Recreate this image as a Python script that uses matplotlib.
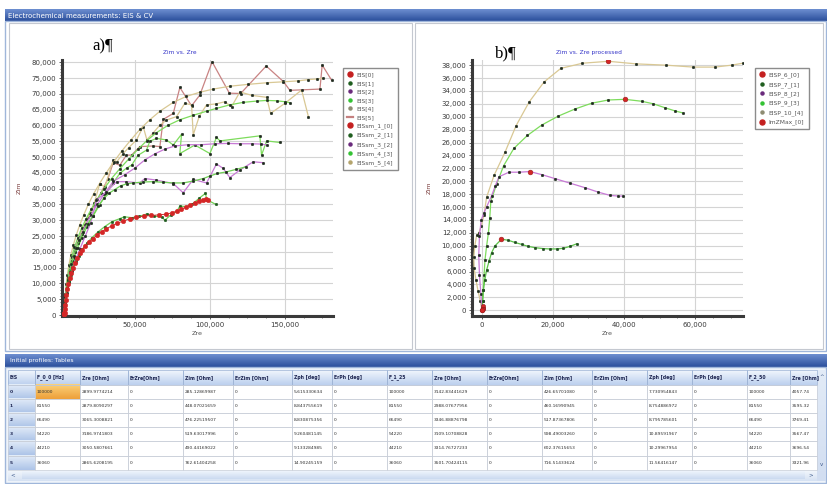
import numpy as np
import matplotlib
matplotlib.use("Agg")
import matplotlib.pyplot as plt
import matplotlib.ticker as mticker
from matplotlib.colors import LinearSegmentedColormap
from matplotlib.lines import Line2D
from matplotlib.patches import Rectangle

W, H = 827, 484

# ---------------- panel a) : Zim vs. Zre (raw + smoothed) ----------------
eis0_zre = [2900, 2880, 3070, 3190, 3050, 2870, 3200, 3500, 3900, 4400, 5000, 5800, 6700, 7800, 9000,
            10200, 11700, 13300, 15000, 17000, 19500, 22000, 25000, 28000, 31000, 34500, 38000, 42000,
            46500, 51000, 56000, 61000, 66000, 70500, 74500, 78000, 81000, 84000, 87000, 90000, 93000,
            95500, 97500, 99000]
eis0_zim = [285, 448, 476, 520, 490, 763, 1800, 3200, 4800, 6500, 8100, 9800, 11600, 13300, 15000,
            16600, 18100, 19500, 20700, 21900, 23100, 24200, 25300, 26400, 27300, 28200, 29000, 29700,
            30400, 30900, 31300, 31500, 31700, 31900, 32300, 32900, 33500, 34100, 34700, 35400, 36100,
            36500, 36700, 36400]

eis1_zre = [3000, 3200, 3600, 4200, 5000, 6000, 7200, 8700, 10500, 12500, 15000, 18000, 21500, 25500,
            30000, 35000, 40000, 43000, 48000, 53000, 58000, 63000, 68000, 70000, 74000, 78000, 80000,
            84000, 88000, 93000, 97000, 98000, 104000]
eis1_zim = [400, 2000, 4000, 6200, 8500, 10700, 12800, 14800, 16900, 18800, 20800, 22700, 24500, 26300,
            28000, 29600, 30500, 31100, 30800, 31200, 32000, 31300, 31000, 30000, 31700, 32800, 34500,
            34300, 35000, 37000, 38500, 36500, 35000]

eis2_zre = [3000, 3500, 4500, 6000, 8000, 10500, 13500, 17000, 20500, 24400, 31100, 37800, 44400, 53300,
            56700, 64400, 75600, 82200, 88900, 97800, 104400, 108900, 113300, 120000, 128900, 135600]
eis2_zim = [300, 3500, 7000, 10500, 14000, 17500, 21000, 25000, 29000, 36300, 39000, 42200, 42200, 41800,
            43200, 42700, 41600, 38700, 42900, 41800, 47800, 46400, 43500, 45900, 48500, 48200]

eis3_zre = [3000, 3400, 4000, 5000, 6200, 7800, 9700, 12000, 14800, 18000, 22000, 26500, 31000, 35500,
            40000, 44500, 48000, 52000, 57800, 60000, 64400, 71100, 75600, 81100, 80000, 90000, 100000,
            104400, 106700, 133300, 134400, 137800, 146700]
eis3_zim = [350, 3300, 6300, 9300, 12300, 15300, 18300, 21300, 24500, 27800, 31200, 34800, 38500, 41800,
            44800, 46500, 47500, 50500, 52200, 55000, 55900, 55400, 53800, 57200, 51100, 53800, 51100,
            56200, 55100, 56700, 50600, 55100, 54600]

eis4_zre = [3000, 3500, 4300, 5400, 6800, 8600, 10800, 13400, 16500, 20000, 23000, 26700, 30000, 35600,
            38000, 42200, 46000, 51100, 55600, 58000, 62000, 66700, 71100, 77800, 83300, 87800, 88900,
            93000, 97800, 104000, 110000, 114400, 120000, 128000, 137800, 140400, 150000, 161100, 165600]
eis4_zim = [350, 3800, 7300, 10800, 14300, 17800, 21300, 24800, 28500, 32300, 35500, 41600, 40500, 49000,
            48500, 51100, 53000, 55400, 59600, 55500, 57500, 60100, 61700, 62800, 67000, 66500, 57000,
            63000, 66500, 66800, 67500, 65900, 70600, 69500, 68900, 63800, 67000, 71200, 62800]

eis5_zre = [3000, 3400, 4100, 5100, 6400, 8000, 10000, 12500, 15500, 19000, 23000, 27500, 32000, 35600,
            40000, 44400, 47800, 53300, 62200, 66700, 68900, 75600, 80000, 87800, 93300, 101500, 113000,
            120500, 137500, 148900, 153300, 173300, 174800, 181100]
eis5_zim = [350, 3600, 7000, 10400, 13800, 17200, 20600, 24000, 27500, 31000, 34800, 38700, 43000, 48200,
            47400, 50600, 50600, 53300, 53500, 53300, 61900, 63800, 72000, 66200, 69600, 80100, 70200,
            70100, 78800, 73900, 71100, 71500, 79100, 74300]

sm2_zre = [3000, 3300, 3800, 4500, 5400, 6500, 7800, 9300, 11000, 13000, 15500, 18500, 22000, 25500,
           29600, 33000, 36700, 40500, 44500, 48900, 55600, 62200, 68900, 75600, 82200, 88900, 95600,
           100000, 105000, 111000, 117500, 124000]
sm2_zim = [400, 3000, 5700, 8400, 11000, 13600, 16200, 18800, 21300, 23800, 26300, 28800, 31300, 34500,
           37000, 38600, 39700, 40900, 41500, 41800, 42100, 42200, 42000, 41800, 41800, 42400, 43200,
           44000, 44800, 45300, 46100, 46900]

sm3_zre = [3000, 3300, 3800, 4600, 5600, 6800, 8300, 10000, 12000, 14500, 17500, 21000, 25000, 29500,
           35600, 43300, 50000, 56700, 63300, 70000, 76700, 85500, 94400, 103300, 112200, 120000, 128000,
           134000, 138000]
sm3_zim = [400, 3200, 6000, 8800, 11600, 14400, 17200, 20000, 22800, 25700, 28700, 31800, 35000, 38200,
           42300, 44400, 46500, 49100, 51000, 52500, 53500, 53900, 53900, 54200, 54300, 54200, 54200,
           54100, 53800]

sm4_zre = [3000, 3300, 3800, 4500, 5400, 6600, 8000, 9800, 12000, 14500, 17500, 21000, 25000, 29500,
           34500, 40000, 46000, 52000, 58000, 64400, 72000, 80000, 88900, 97800, 104400, 113300, 122200,
           131100, 137800, 144400, 150000, 153300]
sm4_zim = [400, 3400, 6400, 9400, 12400, 15400, 18400, 21400, 24400, 27400, 30400, 33500, 36700, 40000,
           43200, 46300, 49400, 52400, 55200, 57700, 60000, 61800, 63200, 64500, 65400, 66500, 67300,
           67700, 67900, 67800, 67500, 67200]

sm5_zre = [3000, 3300, 3700, 4300, 5100, 6100, 7400, 9000, 11000, 13300, 16000, 19000, 22500, 26500,
           31000, 36000, 41500, 47500, 53500, 60000, 67000, 75600, 84400, 93300, 102200, 113300, 125600,
           137800, 148900, 158900, 165600, 171100, 175600]
sm5_zim = [400, 3500, 6600, 9700, 12800, 15900, 19000, 22100, 25300, 28500, 31700, 35000, 38300, 41600,
           45000, 48500, 52000, 55500, 58800, 61800, 64600, 67300, 69200, 70500, 71500, 72400, 73000,
           73500, 73800, 74100, 74500, 74700, 74900]

legend_a = ["EIS[0]", "EIS[1]", "EIS[2]", "EIS[3]", "EIS[4]", "EIS[5]",
            "EISsm_1_[0]", "EISsm_2_[1]", "EISsm_3_[2]", "EISsm_4_[3]", "EISsm_5_[4]"]

# ---------------- panel b) : Zim vs. Zre processed ----------------
p6_zre = [100, 250, 400, 300]
p6_zim = [100, 350, 600, 200]

p7_zre = [0, 200, 400, 800, 1300, 2000, 2700, 3700, 5500, 7400, 9300, 11200, 13000, 14900, 17300,
          19200, 21000, 22900, 24800, 26700]
p7_zim = [0, 1500, 3100, 4700, 6200, 7600, 8900, 10000, 11000, 10850, 10500, 10200, 9900, 9700, 9550,
          9500, 9500, 9600, 9900, 10300]

p8_zre = [0, -300, -700, -900, -700, -200, 500, 1300, 2700, 3700, 4800, 7600, 10500, 13500, 17000,
          20600, 24800, 29000, 32800, 36100, 38400, 39800]
p8_zim = [0, 2500, 5500, 8500, 11500, 14000, 15000, 16000, 17700, 19200, 20700, 21400, 21400, 21500,
          21000, 20400, 19700, 19000, 18300, 17800, 17700, 17700]

p9_zre = [0, 200, 400, 600, 850, 1300, 1800, 2200, 2500, 4100, 6100, 9000, 12800, 16800, 21500, 26200,
          30900, 35600, 40300, 45000, 48300, 51500, 54400, 56500]
p9_zim = [0, 1500, 3100, 5400, 7750, 9900, 11900, 14300, 16900, 19500, 22400, 25100, 27100, 28700,
          30100, 31200, 32100, 32600, 32700, 32400, 32000, 31400, 30900, 30600]

p10_zre = [0, -500, -1100, -1700, -2200, -2300, -2000, -1500, -900, -200, 600, 1300, 3400, 6500, 9600,
           13300, 17500, 22200, 28300, 35600, 43400, 51800, 59500, 65600, 70300, 73400]
p10_zim = [0, 1500, 3000, 4700, 6500, 8200, 10000, 11600, 12000, 13000, 14800, 17500, 20900, 24500,
           28600, 32300, 35400, 37500, 38300, 38600, 38200, 38000, 37700, 37700, 38000, 38300]

zmax_zre = [0, 5500, 13500, 40300, 35600]
zmax_zim = [0, 11000, 21500, 32700, 38600]

legend_b = ["EISP_6_[0]", "EISP_7_[1]", "EISP_8_[2]", "EISP_9_[3]", "EISP_10_[4]", "ImZMax_[0]"]

# ---------------- table "Initial profiles: Tables" ----------------
table_cols = ["EIS", "F_0_0 [Hz]", "Zre [Ohm]", "ErZre[Ohm]", "Zim [Ohm]", "ErZim [Ohm]", "Zph [deg]",
              "ErPh [deg]", "F_1_25", "Zre [Ohm]", "ErZre[Ohm]", "Zim [Ohm]", "ErZim [Ohm]", "Zph [deg]",
              "ErPh [deg]", "F_2_50", "Zre [Ohm]"]
freq = ["100000", "81550", "66490", "54220", "44210", "36060"]
zre_0 = ["2899.9774214", "2879.8090297", "3065.3008821", "3186.9741803", "3050.5807661", "2865.6208195"]
zim_0 = ["285.12869987", "448.07021659", "476.22519507", "519.63017996", "490.44169022", "762.61404258"]
zph_0 = ["5.615330634", "8.843755619", "8.830875356", "9.260481145", "9.133284985", "14.90245159"]
zre_1 = ["3142.83441629", "2988.07677956", "3346.88876798", "3109.10708828", "3314.76727233", "3501.70424115"]
zim_1 = ["426.65701080", "460.16990945", "517.87367806", "598.49003260", "602.37615653", "716.51433624"]
zph_1 = ["7.730954843", "8.754886972", "8.795785601", "10.89591967", "10.29967954", "11.56416147"]
zre_2 = ["4057.74", "3595.32", "3769.41", "3567.47", "3696.54", "3321.96"]

col_edges = [8, 35, 80, 128, 183, 233, 292, 332, 387, 432, 487, 542, 592, 647, 692, 747, 790, 817]

DARK = "#1e2a1e"
GREEN_L = "#7ddc5c"
PURPLE_L = "#c87ad6"
TAN_L = "#d9c894"
ROSE_L = "#c98383"


def thousands(v, pos):
    return f"{v:,.0f}"


def px_axes(fig, x0, y0, x1, y1, **kw):
    return fig.add_axes([x0 / W, 1 - y1 / H, (x1 - x0) / W, (y1 - y0) / H], **kw)


def gradient(ax, x0, y0, x1, y1, top, bottom, z=1):
    cmap = LinearSegmentedColormap.from_list("g", [top, bottom])
    ax.imshow(np.linspace(0, 1, 32)[:, None], cmap=cmap, aspect="auto", origin="upper",
              extent=(x0, x1, y1, y0), zorder=z, interpolation="bilinear")


def style_chart(ax, xlim, ylim, xmaj, xminor, ymaj, yminor):
    ax.set_xlim(*xlim)
    ax.set_ylim(*ylim)
    ax.xaxis.set_major_locator(mticker.FixedLocator(xmaj))
    ax.xaxis.set_minor_locator(mticker.MultipleLocator(xminor))
    ax.yaxis.set_major_locator(mticker.MultipleLocator(ymaj))
    ax.yaxis.set_minor_locator(mticker.MultipleLocator(yminor))
    ax.xaxis.set_major_formatter(mticker.FuncFormatter(thousands))
    ax.yaxis.set_major_formatter(mticker.FuncFormatter(thousands))
    ax.grid(True, which="major", color="#d4d4d4", lw=0.8)
    ax.set_axisbelow(True)
    for s in ("top", "right"):
        ax.spines[s].set_visible(False)
    for s in ("left", "bottom"):
        ax.spines[s].set_linewidth(2.2)
        ax.spines[s].set_color("#3a3a3a")
    ax.tick_params(which="major", labelsize=5, labelcolor="#3a3a3a", length=2.5, width=0.6,
                   color="#404040", pad=1.5)
    ax.tick_params(which="minor", length=1.4, width=0.5, color="#404040")
    ax.set_xlabel("Zre", fontsize=4.6, color="#505050")
    ax.set_ylabel("Zim", fontsize=4.6, color="#7a3c3c")
    ax.xaxis.set_label_coords(0.5, -0.06)
    ax.yaxis.set_label_coords(-0.148, 0.5)


def series(ax, x, y, line, mark=DARK, ms=1.9, lw=0.9, z=3):
    ax.plot(x, y, color=line, lw=lw, marker="o", ms=ms, mfc=mark, mec=mark, mew=0.3, zorder=z)


def legend_handles(specs):
    hs = []
    for color, big, style in specs:
        if style == "line":
            hs.append(Line2D([], [], color=color, lw=1.6))
        else:
            hs.append(Line2D([], [], ls="none", marker="o", ms=3.6 if big else 2.2,
                             mfc=color, mec=color))
    return hs


fig = plt.figure(figsize=(W / 100, H / 100), dpi=100)
fig.patch.set_facecolor("white")

# ---------- background frame, bars and table ----------
bg = fig.add_axes([0, 0, 1, 1])
bg.set_xlim(0, W)
bg.set_ylim(H, 0)
bg.axis("off")

gradient(bg, 5, 9, W, 21, "#6d8ed0", "#2b4f9c")
bg.text(8, 15.5, "Electrochemical measurements: EIS & CV", color="white", fontsize=5, va="center")
bg.add_patch(Rectangle((5, 21), W - 6, 330, fc="white", ec="#9fb6da", lw=1.0))
bg.add_patch(Rectangle((9, 23), 403, 326, fc="white", ec="#c4c8d0", lw=0.8))
bg.add_patch(Rectangle((415, 23), 408, 326, fc="white", ec="#c4c8d0", lw=0.8))

gradient(bg, 5, 354, W, 367, "#6d8ed0", "#2b4f9c")
bg.text(10, 360.5, "Initial profiles: Tables", color="white", fontsize=4.3, va="center")
bg.add_patch(Rectangle((5, 367), W - 6, 116, fc="#eef3fa", ec="#9fb6da", lw=1.0))

hdr_top, hdr_bot, row_h = 370, 385, 14.1
for i, name in enumerate(table_cols):
    x0, x1 = col_edges[i], col_edges[i + 1]
    gradient(bg, x0, hdr_top, x1, hdr_bot, "#f1f6fd", "#bcd0ee", z=2)
    bg.add_patch(Rectangle((x0, hdr_top), x1 - x0, hdr_bot - hdr_top, fc="none", ec="#9cb2d4",
                           lw=0.5, zorder=3))
    clip = Rectangle((x0, hdr_top), x1 - x0, hdr_bot - hdr_top, transform=bg.transData, fc="none")
    t = bg.text(x0 + 2, (hdr_top + hdr_bot) / 2, name, fontsize=3.3, fontweight="bold",
                color="#1c2450", va="center", zorder=4)
    t.set_clip_path(clip)

for r in range(6):
    y0 = hdr_bot + r * row_h
    cells = [str(r), freq[r], zre_0[r], "0", zim_0[r], "0", zph_0[r], "0",
             freq[r], zre_1[r], "0", zim_1[r], "0", zph_1[r], "0", freq[r], zre_2[r]]
    for c, val in enumerate(cells):
        x0, x1 = col_edges[c], col_edges[c + 1]
        if c == 0:
            gradient(bg, x0, y0, x1, y0 + row_h, "#e4edf9", "#adc4e8", z=2)
        elif r == 0 and c == 1:
            gradient(bg, x0, y0, x1, y0 + row_h, "#fbd17a", "#eea03a", z=2)
        else:
            bg.add_patch(Rectangle((x0, y0), x1 - x0, row_h, fc="white", ec="none", zorder=2))
        bg.add_patch(Rectangle((x0, y0), x1 - x0, row_h, fc="none", ec="#c9ced8", lw=0.5, zorder=3))
        clip = Rectangle((x0, y0), x1 - x0, row_h, transform=bg.transData, fc="none")
        t = bg.text(x0 + 2, y0 + row_h / 2, val, fontsize=3.2, va="center", zorder=4,
                    color="#1c2450" if c == 0 else "#303030",
                    fontweight="bold" if c == 0 else "normal")
        t.set_clip_path(clip)

# scrollbars
sb_y = hdr_bot + 6 * row_h
gradient(bg, 8, sb_y, 817, sb_y + 11, "#f3f7fc", "#d6e2f3", z=2)
gradient(bg, 22, sb_y + 1.5, 805, sb_y + 9.5, "#eef4fc", "#cbdaf0", z=3)
bg.text(13, sb_y + 5.5, "<", fontsize=4, color="#3d5a8c", va="center", ha="center", zorder=4)
bg.text(811, sb_y + 5.5, ">", fontsize=4, color="#3d5a8c", va="center", ha="center", zorder=4)
gradient(bg, 817, hdr_top, 826, sb_y + 11, "#e2ebf7", "#d2def1", z=2)
bg.text(821.5, hdr_top + 6, "^", fontsize=4, color="#3d5a8c", va="center", ha="center", zorder=4)
bg.text(821.5, sb_y - 5, "v", fontsize=4, color="#3d5a8c", va="center", ha="center", zorder=4)

# panel captions
bg.text(92, 50, "a)¶", fontsize=12, family="Liberation Serif", va="baseline", zorder=5)
bg.text(495, 57, "b)¶", fontsize=12, family="Liberation Serif", va="baseline", zorder=5)
bg.text(180, 52.5, "Zim vs. Zre", fontsize=4.2, color="#3434c8", ha="center", va="center", zorder=5)
bg.text(589, 52.5, "Zim vs. Zre processed", fontsize=4.2, color="#3434c8", ha="center", va="center",
        zorder=5)

# ---------- chart a) ----------
ax1 = px_axes(fig, 62, 60, 333, 316)
ax1.set_facecolor("none")
style_chart(ax1, (1500, 182000), (-300, 80700), [50000, 100000, 150000], 12500, 5000, 1000)
series(ax1, eis5_zre, eis5_zim, ROSE_L)
series(ax1, eis4_zre, eis4_zim, TAN_L)
series(ax1, sm5_zre, sm5_zim, TAN_L)
series(ax1, eis3_zre, eis3_zim, GREEN_L)
series(ax1, sm4_zre, sm4_zim, GREEN_L)
series(ax1, sm3_zre, sm3_zim, PURPLE_L)
series(ax1, eis2_zre, eis2_zim, PURPLE_L)
series(ax1, sm2_zre, sm2_zim, "#6fcf55")
series(ax1, eis1_zre, eis1_zim, "#6fcf55", mark="#1f5a1f")
series(ax1, eis0_zre, eis0_zim, "#c83030", mark="#d42626", ms=3.3, lw=0.7, z=4)

specs_a = [("#c42020", True, "dot"), ("#1f5e1f", False, "dot"), ("#6a2a7c", False, "dot"),
           ("#34c234", False, "dot"), ("#8e8c72", False, "dot"), ("#c58080", False, "line"),
           ("#c42020", True, "dot"), ("#1f5e1f", False, "dot"), ("#6a2a7c", False, "dot"),
           ("#34c234", False, "dot"), ("#b4a46c", False, "dot")]
leg1 = ax1.legend(legend_handles(specs_a), legend_a, loc="upper left",
                  bbox_to_anchor=(343 / W, 1 - 68 / H), bbox_transform=fig.transFigure,
                  borderaxespad=0, fontsize=4.3, labelspacing=0.56, handlelength=0.9,
                  handletextpad=0.7, borderpad=0.7, fancybox=False, framealpha=1)
leg1.get_frame().set_edgecolor("#8c8c8c")
leg1.get_frame().set_linewidth(1.0)
for t in leg1.get_texts():
    t.set_color("#555555")

# ---------- chart b) ----------
ax2 = px_axes(fig, 472, 60, 743, 316)
ax2.set_facecolor("none")
style_chart(ax2, (-2800, 73500), (-900, 38800), [0, 20000, 40000, 60000], 5000, 2000, 500)
series(ax2, p10_zre, p10_zim, TAN_L)
series(ax2, p9_zre, p9_zim, GREEN_L)
series(ax2, p8_zre, p8_zim, PURPLE_L)
series(ax2, p7_zre, p7_zim, "#5cc248", mark="#1f4a1f")
ax2.plot(p6_zre, p6_zim, ls="none", marker="o", ms=3.0, mfc="#d42626", mec="#8a1a1a", mew=0.4, zorder=5)
ax2.plot(zmax_zre, zmax_zim, ls="none", marker="o", ms=3.4, mfc="#d42626", mec="#9a1a1a", mew=0.4,
         zorder=5)

specs_b = [("#c42020", True, "dot"), ("#1f5e1f", False, "dot"), ("#6a2a7c", False, "dot"),
           ("#34c234", False, "dot"), ("#8e8c72", False, "dot"), ("#c42020", True, "dot")]
leg2 = ax2.legend(legend_handles(specs_b), legend_b, loc="upper left",
                  bbox_to_anchor=(755 / W, 1 - 68 / H), bbox_transform=fig.transFigure,
                  borderaxespad=0, fontsize=4.3, labelspacing=0.6, handlelength=0.9,
                  handletextpad=0.7, borderpad=0.7, fancybox=False, framealpha=1)
leg2.get_frame().set_edgecolor("#8c8c8c")
leg2.get_frame().set_linewidth(1.0)
for t in leg2.get_texts():
    t.set_color("#555555")

fig.savefig("out.png", dpi=100)
